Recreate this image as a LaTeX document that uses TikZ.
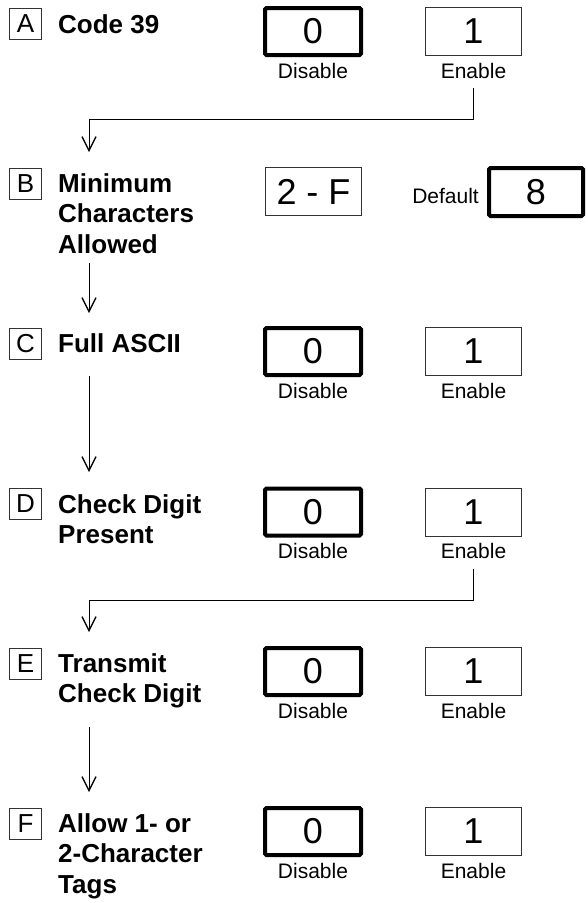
\documentclass[tikz,border=0pt]{standalone}
\usepackage{fontspec}
\setmainfont{Liberation Sans}
\usetikzlibrary{arrows.meta}
\begin{document}
\begin{tikzpicture}[x=1pt,y=-1pt,
  letterbox/.style={draw=black!80,line width=0.9pt,minimum width=32pt,minimum height=31pt,inner sep=0pt,font=\fontsize{26}{30}\selectfont},
  title/.style={anchor=base west,align=left,inner sep=0pt,font=\fontsize{26}{30.5}\selectfont\bfseries},
  selbox/.style={draw=black,line width=4pt,rounded corners=1.5pt,minimum width=96pt,minimum height=47pt,inner sep=0pt,font=\fontsize{36}{36}\selectfont},
  optbox/.style={draw=black!80,line width=1pt,minimum width=96pt,minimum height=48pt,inner sep=0pt,font=\fontsize{36}{36}\selectfont},
  caption/.style={anchor=base,inner sep=0pt,font=\fontsize{21}{21}\selectfont},
  arr/.style={line width=0.9pt,-{Straight Barb[length=14pt,width=14pt,line width=1.3pt]}},
]
\useasboundingbox (0,0) rectangle (587,903);

% Row A
\node[letterbox] (lA) at (25.5,24) {A};
\node[title] (tA) at (58,33) {Code 39};
\node[selbox] (zA) at (313,31.5) {0};
\node[optbox] (oA) at (473.5,31.5) {1};
\node[caption] (dA) at (313,78) {Disable};
\node[caption] (eA) at (473.5,78) {Enable};

% Row B (multi-line titles: base = last line's baseline)
\node[letterbox] (lB) at (25.5,183.5) {B};
\node[title] (tB) at (58,253) {Minimum\\Characters\\Allowed};
\node[optbox] (rB) at (313.5,191.5) {2 - F};
\node[caption,anchor=base east] (defB) at (479,203) {Default};
\node[selbox,minimum width=94pt,minimum height=48pt] (sB) at (536,192) {8};

% Row C
\node[letterbox] (lC) at (25.5,343.5) {C};
\node[title] (tC) at (58,352) {Full ASCII};
\node[selbox] (zC) at (313,351.5) {0};
\node[optbox] (oC) at (473.5,351.5) {1};
\node[caption] (dC) at (313,398) {Disable};
\node[caption] (eC) at (473.5,398) {Enable};

% Row D
\node[letterbox] (lD) at (25.5,504) {D};
\node[title] (tD) at (58,543.5) {Check Digit\\Present};
\node[selbox] (zD) at (313,512) {0};
\node[optbox] (oD) at (473.5,512) {1};
\node[caption] (dD) at (313,558.5) {Disable};
\node[caption] (eD) at (473.5,558.5) {Enable};

% Row E
\node[letterbox] (lE) at (25.5,663.5) {E};
\node[title] (tE) at (58,702.5) {Transmit\\Check Digit};
\node[selbox] (zE) at (313,671.5) {0};
\node[optbox] (oE) at (473.5,671.5) {1};
\node[caption] (dE) at (313,718) {Disable};
\node[caption] (eE) at (473.5,718) {Enable};

% Row F
\node[letterbox] (lF) at (25.5,823.5) {F};
\node[title] (tF) at (58,893) {Allow 1- or\\2-Character\\Tags};
\node[selbox] (zF) at (313,831.5) {0};
\node[optbox] (oF) at (473.5,831.5) {1};
\node[caption] (dF) at (313,878) {Disable};
\node[caption] (eF) at (473.5,878) {Enable};

% connector coordinates
\coordinate (pB) at (89,152);
\coordinate (sBC) at (89,263);
\coordinate (pC) at (89,313);
\coordinate (sCD) at (89,376);
\coordinate (pD) at (89,472);
\coordinate (pE) at (89,632);
\coordinate (sEF) at (89,727);
\coordinate (pF) at (89,792);

% connectors
\draw[arr] ([yshift=-10pt]eA.south) -- ++(0,31) -| (pB);
\draw[arr] (sBC) -- (pC);
\draw[arr] (sCD) -- (pD);
\draw[arr] ([yshift=-10pt]eD.south) -- ++(0,32) -| (pE);
\draw[arr] (sEF) -- (pF);
\end{tikzpicture}
\end{document}
